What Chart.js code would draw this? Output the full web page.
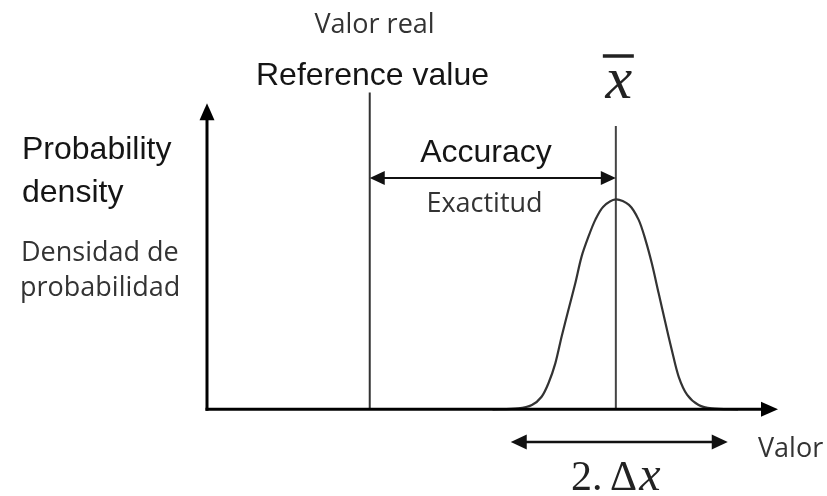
<!DOCTYPE html>
<html lang="es">
<head>
<meta charset="UTF-8">
<title>Accuracy / Exactitud</title>
<script src="https://cdn.jsdelivr.net/npm/chart.js"></script>
<style>
  body { margin: 0; background: #fff; }
  .wrap { width: 827px; height: 496px; position: relative; }
</style>
</head>
<body>
<div class="wrap"><canvas id="chart"></canvas></div>
<script>
const curveX = [5.0, 5.45, 5.69, 5.86, 5.98, 6.10, 6.21, 6.33, 6.45, 6.56, 6.68, 6.80, 6.94,
                7.16, 7.39, 7.56, 7.68, 7.79, 7.91, 8.03, 8.14, 8.26, 8.41, 8.61, 8.84, 9.3];
const curveY = [0, 0.03, 0.14, 0.41, 0.85, 1.50, 2.37, 3.25, 4.12, 4.99, 5.64, 6.19, 6.62,
                6.86, 6.68, 6.19, 5.53, 4.77, 3.79, 2.81, 1.94, 1.07, 0.47, 0.14, 0.03, 0];

// reference value and mean (vertical markers)
const markerX = [2.85, 7.16];
const markerTop = [10.35, 9.26];

// arrows: accuracy (reference -> mean) and spread 2.Δx
const accuracyY = 7.56;
const spreadX = [5.32, 9.12];
const spreadY = -1.07;

// axis extents
const axisEnd = [10, 10];

const curve = curveX.map((v, i) => ({ x: v, y: curveY[i] }));

function head(ctx, tx, ty, a, len, half) {
  const bx = tx - Math.cos(a) * len, by = ty - Math.sin(a) * len;
  ctx.beginPath();
  ctx.moveTo(tx, ty);
  ctx.lineTo(bx - Math.sin(a) * half, by + Math.cos(a) * half);
  ctx.lineTo(bx + Math.sin(a) * half, by - Math.cos(a) * half);
  ctx.closePath();
  ctx.fill();
}

function arrow(ctx, x1, y1, x2, y2, w, len, half, startHead, endHead) {
  const a = Math.atan2(y2 - y1, x2 - x1);
  const c = Math.cos(a), s = Math.sin(a);
  const k = len * 0.6;
  ctx.lineWidth = w;
  ctx.beginPath();
  ctx.moveTo(startHead ? x1 + c * k : x1, startHead ? y1 + s * k : y1);
  ctx.lineTo(endHead ? x2 - c * k : x2, endHead ? y2 - s * k : y2);
  ctx.stroke();
  if (startHead) head(ctx, x1, y1, a + Math.PI, len, half);
  if (endHead) head(ctx, x2, y2, a, len, half);
}

function label(ctx, s, x, y, font, align, color) {
  ctx.font = font;
  ctx.textAlign = align;
  ctx.textBaseline = 'alphabetic';
  ctx.fillStyle = color;
  ctx.fillText(s, x, y);
}

const diagram = {
  id: 'diagram',
  afterDatasetsDraw(chart) {
    const { ctx, scales: { x, y } } = chart;
    const px = v => x.getPixelForValue(v);
    const py = v => y.getPixelForValue(v);
    ctx.save();
    ctx.strokeStyle = '#000';
    ctx.fillStyle = '#000';
    ctx.lineCap = 'butt';

    // axes
    arrow(ctx, px(0) - 1.5, py(0), px(axisEnd[0]), py(0), 3, 17, 7.5, false, true);
    arrow(ctx, px(0), py(0) + 1.5, px(0), py(axisEnd[1]), 3, 17, 7.5, false, true);

    // accuracy arrow
    ctx.strokeStyle = '#111';
    ctx.fillStyle = '#111';
    arrow(ctx, px(markerX[0]), py(accuracyY), px(markerX[1]), py(accuracyY), 2, 15, 7, true, true);
    // 2.Δx arrow
    arrow(ctx, px(spreadX[0]), py(spreadY), px(spreadX[1]), py(spreadY), 2.5, 16, 7.5, true, true);

    const arial = '32px "Liberation Sans", Arial, sans-serif';
    const segoe = '27px "Open Sans", "Noto Sans", sans-serif';
    const dark = '#151515', grey = '#333';

    label(ctx, 'Valor real', 374.5, 33, segoe, 'center', grey);
    label(ctx, 'Reference value', 372.5, 85, arial, 'center', dark);

    label(ctx, 'Probability', 22, 159, arial, 'left', dark);
    label(ctx, 'density', 22, 201.5, arial, 'left', dark);
    label(ctx, 'Densidad de', 21, 260.5, segoe, 'left', grey);
    label(ctx, 'probabilidad', 20, 295.5, segoe, 'left', grey);

    label(ctx, 'Accuracy', 486, 162, arial, 'center', dark);
    label(ctx, 'Exactitud', 484.5, 212, segoe, 'center', grey);

    label(ctx, 'Valor', 758, 456.5, segoe, 'left', grey);

    // x-bar above the mean line
    const mx = px(markerX[1]);
    label(ctx, 'x', mx + 3, 98, 'italic 60px "Liberation Serif", serif', 'center', '#222');
    ctx.strokeStyle = '#222';
    ctx.lineWidth = 3.5;
    ctx.beginPath();
    ctx.moveTo(mx - 13, 56);
    ctx.lineTo(mx + 18, 56);
    ctx.stroke();

    // 2.Δx
    const serif = '42px "Liberation Serif", serif';
    label(ctx, '2.', 571, 490, serif, 'left', '#222');
    label(ctx, '\u0394', 610, 490, serif, 'left', '#222');
    label(ctx, 'x', 650, 490, 'italic 48px "Liberation Serif", serif', 'center', '#222');

    ctx.restore();
  }
};

new Chart(document.getElementById('chart'), {
  type: 'scatter',
  data: {
    datasets: [
      {
        data: curve,
        showLine: true,
        borderColor: '#333',
        borderWidth: 2.2,
        pointRadius: 0,
        tension: 0.3,
        clip: false
      },
      {
        data: [{ x: markerX[0], y: 0 }, { x: markerX[0], y: markerTop[0] }],
        showLine: true,
        borderColor: '#333',
        borderWidth: 2,
        pointRadius: 0,
        clip: false
      },
      {
        data: [{ x: markerX[1], y: 0 }, { x: markerX[1], y: markerTop[1] }],
        showLine: true,
        borderColor: '#444',
        borderWidth: 2,
        pointRadius: 0,
        clip: false
      }
    ]
  },
  options: {
    responsive: true,
    maintainAspectRatio: false,
    animation: false,
    layout: { padding: { left: 207, right: 49, top: 42.1, bottom: 10.2 } },
    scales: {
      x: { type: 'linear', min: 0, max: 10, display: false },
      y: { type: 'linear', min: -2.5, max: 12, display: false }
    },
    plugins: {
      legend: { display: false },
      tooltip: { enabled: false }
    }
  },
  plugins: [diagram]
});
</script>
</body>
</html>
